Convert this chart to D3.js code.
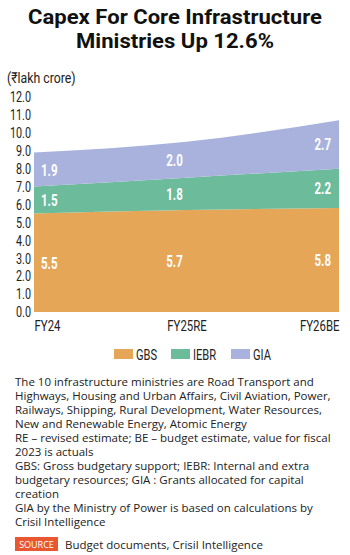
<!DOCTYPE html>
<html>
<head>
<meta charset="utf-8">
<script src="https://cdn.jsdelivr.net/npm/d3@7"></script>
<style>
  body { margin: 0; background: #fff; }
  svg { display: block; }
  .cond { font-family: Roboto, sans-serif; }
  .note { font-family: "Open Sans", sans-serif; font-size: 11.5px; fill: #222; }
</style>
</head>
<body>
<div id="chart"></div>
<script>
// Data
var years = ["FY24", "FY25RE", "FY26BE"]
var gbs = [5.5, 5.7, 5.8]
var iebr = [1.5, 1.8, 2.2]
var gia = [1.9, 2.0, 2.7]
var seriesNames = ["GBS", "IEBR", "GIA"]
var yTicks = [0, 1, 2, 3, 4, 5, 6, 7, 8, 9, 10, 11, 12]
var colors = ["#e6a658", "#6cbb9b", "#a8b2dc"]
var notes = [
  "The 10 infrastructure ministries are Road Transport and",
  "Highways, Housing and Urban Affairs, Civil Aviation, Power,",
  "Railways, Shipping, Rural Development, Water Resources,",
  "New and Renewable Energy, Atomic Energy",
  "RE – revised estimate; BE – budget estimate, value for fiscal",
  "2023 is actuals",
  "GBS: Gross budgetary support; IEBR: Internal and extra",
  "budgetary resources; GIA : Grants allocated for capital",
  "creation",
  "GIA by the Ministry of Power is based on calculations by",
  "Crisil Intelligence"
]
var source = "Budget documents, Crisil Intelligence"

var W = 350, H = 555
var svg = d3.select("#chart").append("svg")
  .attr("width", W)
  .attr("height", H)

// squeeze text horizontally to mimic the condensed face
function squeeze(sel, s) {
  sel.each(function() {
    var t = d3.select(this)
    var tx = +t.attr("x") || 0, ty = +t.attr("y") || 0
    t.attr("x", null).attr("y", null)
      .attr("transform", `translate(${tx},${ty}) scale(${s},1)`)
  })
}

// Title
var title = svg.append("g").attr("class", "cond")
  .attr("font-weight", "bold")
  .attr("font-size", 21)
  .attr("text-anchor", "middle")
  .attr("fill", "#111")
var t1 = title.append("text").attr("x", W / 2).attr("y", 24).text("Capex For Core Infrastructure")
title.append("text").attr("x", W / 2).attr("y", 48).text("Ministries Up 12.6%")
var ts = 294 / t1.node().getComputedTextLength()
squeeze(title.selectAll("text"), ts)

var unit = svg.append("text").attr("class", "cond")
  .attr("x", 7).attr("y", 83)
  .attr("font-size", 15)
  .attr("fill", "#222")
  .text("(₹lakh crore)")
squeeze(unit, 0.82)

// Scales
var x = d3.scalePoint().domain(years).range([34, 339])
var y = d3.scaleLinear().domain([0, 12]).range([312, 97])

var rows = years.map((yr, i) => ({ year: yr, GBS: gbs[i], IEBR: iebr[i], GIA: gia[i] }))
var stack = d3.stack().keys(seriesNames)(rows)

var area = d3.area()
  .x(d => x(d.data.year))
  .y0(d => y(d[0]))
  .y1(d => y(d[1]))
  .curve(d3.curveMonotoneX)

svg.append("g").selectAll("path")
  .data(stack)
  .join("path")
  .attr("fill", (d, i) => colors[i])
  .attr("d", area)

// Y axis
var yAxis = svg.append("g")
  .attr("class", "cond")
  .attr("transform", "translate(31,0)")
  .call(d3.axisLeft(y).tickValues(yTicks).tickFormat(d3.format(".1f")).tickSize(0).tickPadding(0))
yAxis.select(".domain").remove()
yAxis.selectAll("text")
  .attr("font-family", null)
  .attr("font-size", 15)
  .attr("fill", "#222")
  .attr("x", 0)
  .attr("transform", "scale(0.72,1)")

// X axis
var xAxis = svg.append("g")
  .attr("class", "cond")
  .attr("transform", "translate(0,312)")
  .call(d3.axisBottom(x).tickSize(0).tickPadding(6))
xAxis.select(".domain").remove()
xAxis.selectAll("text")
  .attr("font-family", null)
  .attr("font-size", 15)
  .attr("fill", "#222")
  .attr("dy", "0.9em")
  .attr("text-anchor", (d, i) => i === 0 ? "start" : i === years.length - 1 ? "end" : "middle")
  .attr("transform", "scale(0.76,1)")

// Value labels
var labelG = svg.append("g").attr("class", "cond")
  .attr("font-weight", "bold")
  .attr("font-size", 16)
  .attr("fill", "#fff")
stack.forEach(s => {
  s.forEach((d, i) => {
    var px = x(d.data.year)
    var anchor = "middle"
    if (i === 0) { px += 7; anchor = "start" }
    else if (i === years.length - 1) { px -= 8; anchor = "end" }
    else { px -= 12 }
    labelG.append("text")
      .attr("x", px)
      .attr("y", y((d[0] + d[1]) / 2) + 6)
      .attr("text-anchor", anchor)
      .text(d3.format(".1f")(d[1] - d[0]))
  })
})
squeeze(labelG.selectAll("text"), 0.72)

// Legend
var legendX = [114, 171, 231]
var legend = svg.append("g").attr("class", "cond")
  .selectAll("g")
  .data(seriesNames)
  .join("g")
  .attr("transform", (d, i) => `translate(${legendX[i]},349)`)
legend.append("rect")
  .attr("width", 19).attr("height", 10)
  .attr("fill", (d, i) => colors[i])
legend.append("text")
  .attr("x", 22).attr("y", 10.5)
  .attr("font-size", 15)
  .attr("fill", "#222")
  .text(d => d)
squeeze(legend.selectAll("text"), 0.74)

// Notes
svg.append("g").selectAll("text")
  .data(notes)
  .join("text")
  .attr("class", "note")
  .attr("x", 15)
  .attr("y", (d, i) => 386 + i * 14)
  .text(d => d)

// Source
svg.append("rect")
  .attr("x", 15).attr("y", 537)
  .attr("width", 43).attr("height", 14)
  .attr("fill", "#e8572f")
svg.append("text")
  .attr("x", 36.5).attr("y", 548)
  .attr("text-anchor", "middle")
  .attr("font-family", "'Open Sans', sans-serif")
  .attr("font-size", 9)
  .attr("fill", "#fff")
  .text("SOURCE")
svg.append("text")
  .attr("class", "note")
  .attr("x", 65).attr("y", 549)
  .text(source)
</script>
</body>
</html>
